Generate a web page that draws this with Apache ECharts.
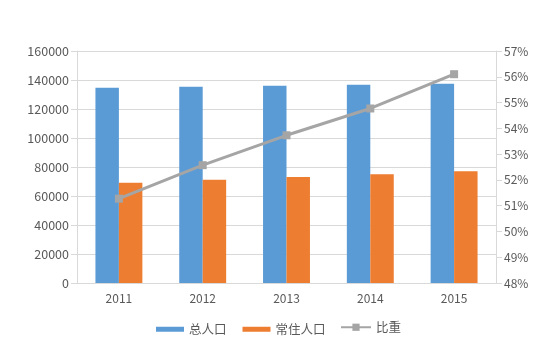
<!DOCTYPE html>
<html><head><meta charset="utf-8">
<script src="https://cdn.jsdelivr.net/npm/echarts@6/dist/echarts.min.js"></script>
<style>html,body{margin:0;padding:0;background:#fff}#c{width:559px;height:361px}</style>
</head><body><div id="c"></div>
<script>
const categories = ['2011','2012','2013','2014','2015'];
const totalPop = [134735, 135404, 136072, 136782, 137462];
const residentPop = [69079, 71182, 73111, 74916, 77116];
const ratio = [51.27, 52.57, 53.73, 54.77, 56.10];
const leftTicks = [0, 160000, 20000];
const rightTicks = [48, 57, 1];

const txt = '#595959';
const font = '"Noto Sans CJK SC", "Noto Sans", sans-serif';
const chart = echarts.init(document.getElementById('c'));
chart.setOption({
  animation: false,
  textStyle: {fontFamily: font},
  grid: {left: 77, right: 63, top: 51, bottom: 78},
  legend: [
    {left: 151, top: 318, itemWidth: 28, itemHeight: 5, itemGap: 16,
     textStyle: {color: txt, fontSize: 12.5, fontFamily: font},
     data: [{name: '总人口', icon: 'rect'}, {name: '常住人口', icon: 'rect'}]},
    {left: 335, top: 316, itemWidth: 30, itemHeight: 9,
     textStyle: {color: txt, fontSize: 12.5, fontFamily: font},
     data: [{name: '比重'}]}
  ],
  xAxis: {
    type: 'category', data: categories,
    axisLine: {lineStyle: {color: '#d9d9d9'}},
    axisTick: {show: false},
    axisLabel: {color: txt, fontSize: 12, margin: 9}
  },
  yAxis: [
    {type: 'value', min: leftTicks[0], max: leftTicks[1], interval: leftTicks[2],
     axisLine: {show: true, lineStyle: {color: '#d9d9d9'}},
     axisTick: {show: true, length: 6, lineStyle: {color: '#d9d9d9'}},
     axisLabel: {color: txt, fontSize: 12.5, margin: 8, formatter: v => String(v)},
     splitLine: {lineStyle: {color: '#d9d9d9'}}},
    {type: 'value', min: rightTicks[0], max: rightTicks[1], interval: rightTicks[2],
     axisLine: {show: true, lineStyle: {color: '#d9d9d9'}},
     axisTick: {show: true, length: 6, lineStyle: {color: '#d9d9d9'}},
     axisLabel: {color: txt, fontSize: 12, margin: 8, formatter: '{value}%'},
     splitLine: {show: false}}
  ],
  series: [
    {name: '总人口', type: 'bar', data: totalPop, barWidth: '28%', barGap: '0%',
     itemStyle: {color: '#5B9BD5'}},
    {name: '常住人口', type: 'bar', data: residentPop, barWidth: '28%',
     itemStyle: {color: '#ED7D31'}},
    {name: '比重', type: 'line', yAxisIndex: 1, data: ratio,
     symbol: 'rect', symbolSize: 8,
     lineStyle: {color: '#A5A5A5', width: 3},
     itemStyle: {color: '#A5A5A5'}}
  ]
});
</script></body></html>
